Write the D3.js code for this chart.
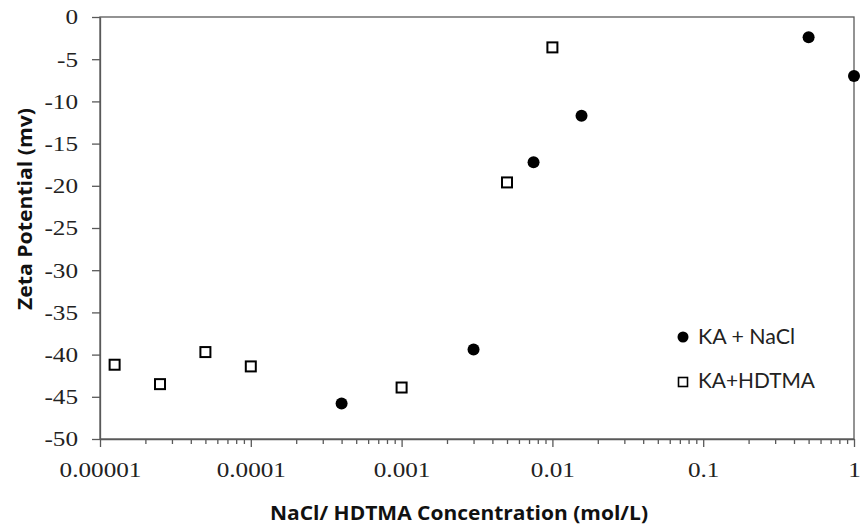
<!DOCTYPE html>
<html>
<head>
<meta charset="utf-8">
<script src="https://cdn.jsdelivr.net/npm/d3@7/dist/d3.min.js"></script>
<style>
  html, body { margin: 0; padding: 0; background: #fff; }
  svg { display: block; }
</style>
</head>
<body>
<svg id="chart" width="861" height="529"></svg>
<script>
// Zeta potential of KA versus NaCl / HDTMA concentration
const naclConc = [0.0004, 0.003, 0.0075, 0.0156, 0.5, 1];
const naclZeta = [-45.8, -39.4, -17.2, -11.7, -2.4, -7.0];

const hdtmaConc = [0.0000125, 0.000025, 0.00005, 0.0001, 0.001, 0.005, 0.01];
const hdtmaZeta = [-41.2, -43.5, -39.7, -41.4, -43.9, -19.6, -3.6];

const xTickValues = [0.00001, 0.0001, 0.001, 0.01, 0.1, 1];
const xTickLabels = ["0.00001", "0.0001", "0.001", "0.01", "0.1", "1"];
const yTickValues = [0, -5, -10, -15, -20, -25, -30, -35, -40, -45, -50];

const seriesNames = ["KA + NaCl", "KA+HDTMA"];

const margin = { left: 100, top: 17, right: 7, bottom: 90 };
const W = 861, H = 529;
const plotW = W - margin.left - margin.right;   // 754
const plotH = H - margin.top - margin.bottom;   // 422

const axisColor = "#595959";
const labelScale = 1.2;
const tickFont = '"Liberation Serif"';

const svg = d3.select("#chart");

const x = d3.scaleLog().domain([1e-5, 1]).range([margin.left, margin.left + plotW]);
const y = d3.scaleLinear().domain([-50, 0]).range([margin.top + plotH, margin.top]);

// plot area border (top and right edges)
svg.append("rect")
  .attr("x", margin.left).attr("y", margin.top)
  .attr("width", plotW).attr("height", plotH)
  .attr("fill", "none").attr("stroke", axisColor).attr("stroke-width", 1.3);

// y axis
const yAxis = svg.append("g")
  .attr("transform", `translate(${margin.left},0)`)
  .call(d3.axisLeft(y).tickValues(yTickValues).tickSize(8).tickSizeOuter(0)
        .tickFormat(d => String(d)));
yAxis.attr("font-family", null);
yAxis.select(".domain").attr("stroke", axisColor).attr("stroke-width", 1.3);
yAxis.selectAll(".tick line").attr("stroke", axisColor).attr("stroke-width", 1.3);
yAxis.selectAll(".tick text")
  .style("font-family", tickFont)
  .style("font-size", "21px")
  .attr("fill", "#222")
  .attr("x", -22 / labelScale)
  .attr("dy", "0.33em")
  .attr("transform", `scale(${labelScale},1)`);

// x axis: minor ticks
const minorTicks = [];
xTickValues.slice(0, -1).forEach(d => {
  for (let k = 2; k <= 9; k++) minorTicks.push(d * k);
});
const xMinor = svg.append("g")
  .attr("transform", `translate(0,${margin.top + plotH})`)
  .call(d3.axisBottom(x).tickValues(minorTicks).tickSize(5).tickSizeOuter(0).tickFormat(""));
xMinor.select(".domain").remove();
xMinor.selectAll(".tick line").attr("stroke", axisColor).attr("stroke-width", 1.3);

// x axis: major ticks and labels
const xAxis = svg.append("g")
  .attr("transform", `translate(0,${margin.top + plotH})`)
  .call(d3.axisBottom(x).tickValues(xTickValues).tickSize(8).tickSizeOuter(0)
        .tickFormat((d, i) => xTickLabels[i]));
xAxis.attr("font-family", null);
xAxis.select(".domain").attr("stroke", axisColor).attr("stroke-width", 1.3);
xAxis.selectAll(".tick line").attr("stroke", axisColor).attr("stroke-width", 1.3);
xAxis.selectAll(".tick text")
  .style("font-family", tickFont)
  .style("font-size", "21px")
  .attr("fill", "#222")
  .attr("y", 38).attr("dy", 0)
  .attr("transform", `scale(${labelScale},1)`);

// KA + HDTMA: open squares
const sq = 10;
svg.append("g").selectAll("rect")
  .data(hdtmaConc.map((c, i) => [c, hdtmaZeta[i]]))
  .join("rect")
  .attr("x", d => x(d[0]) - sq / 2)
  .attr("y", d => y(d[1]) - sq / 2)
  .attr("width", sq).attr("height", sq)
  .attr("fill", "#fff").attr("stroke", "#000").attr("stroke-width", 2);

// KA + NaCl: filled circles
svg.append("g").selectAll("circle")
  .data(naclConc.map((c, i) => [c, naclZeta[i]]))
  .join("circle")
  .attr("cx", d => x(d[0]))
  .attr("cy", d => y(d[1]))
  .attr("r", 6)
  .attr("fill", "#000");

// legend
const legend = svg.append("g");
legend.append("circle").attr("cx", 683).attr("cy", 337).attr("r", 5.5).attr("fill", "#000");
legend.append("rect").attr("x", 683 - 4.5).attr("y", 382 - 4.5).attr("width", 9).attr("height", 9)
  .attr("fill", "#fff").attr("stroke", "#000").attr("stroke-width", 1.6);
legend.append("text").attr("x", 698).attr("y", 344)
  .style("font-family", '"Lato"').style("font-size", "21px")
  .attr("fill", "#222").attr("textLength", 97).attr("lengthAdjust", "spacingAndGlyphs")
  .text(seriesNames[0]);
legend.append("text").attr("x", 698).attr("y", 388)
  .style("font-family", '"Lato"').style("font-size", "21px")
  .attr("fill", "#222").attr("textLength", 117).attr("lengthAdjust", "spacingAndGlyphs")
  .text(seriesNames[1]);

// axis titles
svg.append("text")
  .attr("x", 459).attr("y", 520)
  .attr("text-anchor", "middle")
  .style("font-family", '"Open Sans"').style("font-weight", "bold")
  .style("font-size", "20px").attr("fill", "#111")
  .attr("textLength", 378).attr("lengthAdjust", "spacingAndGlyphs")
  .text("NaCl/ HDTMA Concentration (mol/L)");

svg.append("text")
  .attr("transform", "translate(32,209) rotate(-90)")
  .attr("text-anchor", "middle")
  .style("font-family", '"Open Sans"').style("font-weight", "bold")
  .style("font-size", "19px").attr("fill", "#111")
  .attr("textLength", 202).attr("lengthAdjust", "spacingAndGlyphs")
  .text("Zeta Potential (mv)");
</script>
</body>
</html>
